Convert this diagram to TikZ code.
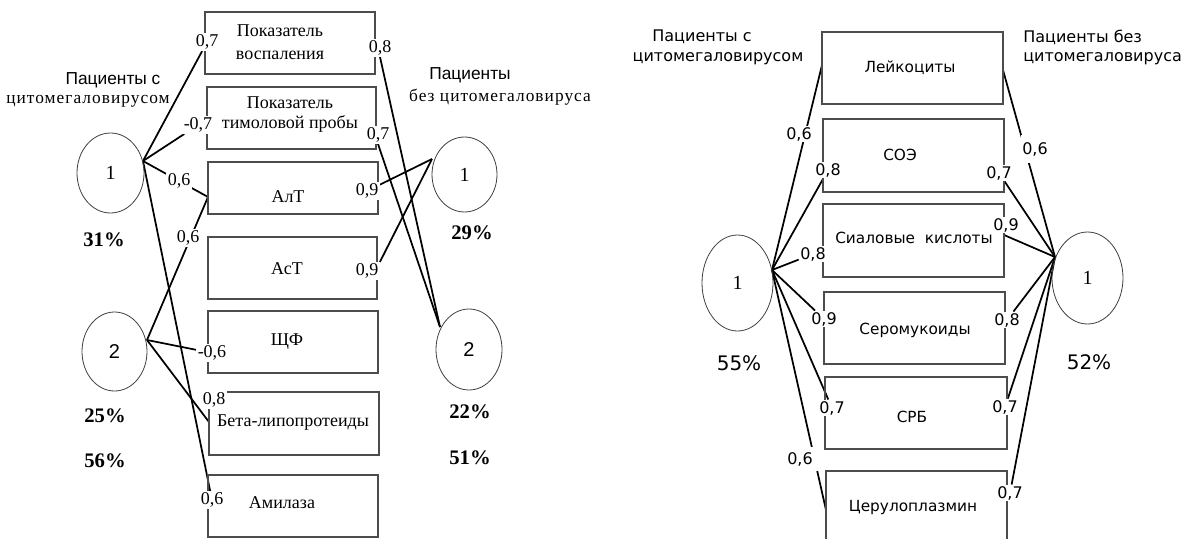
\documentclass[tikz,border=0pt]{standalone}
\usepackage{fontspec}
\usetikzlibrary{shapes.geometric,fit}
\newfontfamily\lsr{Liberation Serif}
\newfontfamily\lsrw{Liberation Serif}[LetterSpace=6]
\newfontfamily\lss{Liberation Sans}
\newfontfamily\djv{DejaVu Sans}
\pgfdeclarelayer{back}
\pgfdeclarelayer{wires}
\pgfsetlayers{back,wires,main}

\tikzset{
  lbox/.style={draw=black!70, line width=0.9pt, inner sep=0pt},
  conn/.style={line width=1.3pt, black},
  oval/.style={ellipse, draw=black!75, line width=0.6pt, inner sep=0pt},
  ltxt/.style={font=\lsr\fontsize{13.5}{15}\selectfont, align=center, inner sep=0pt},
  lnum/.style={fill=white, inner sep=1pt, font=\lsr\fontsize{13.5}{13}\selectfont},
  lpct/.style={font=\lsr\bfseries\fontsize{15.5}{16}\selectfont, inner sep=0pt},
  lhead/.style={font=\lss\fontsize{13}{13}\selectfont, inner sep=0pt},
  lheadw/.style={font=\lsrw\fontsize{13}{13}\selectfont, inner sep=0pt},
  rtxt/.style={font=\djv\fontsize{11.5}{13}\selectfont, inner sep=0pt},
  rnum/.style={fill=white, inner sep=1pt, font=\djv\fontsize{12}{12}\selectfont},
  rpct/.style={font=\djv\fontsize{15}{15}\selectfont, inner sep=0pt},
  rhead/.style={font=\djv\fontsize{12}{12}\selectfont, inner sep=0pt},
}

\begin{document}
\begin{tikzpicture}[x=0.75pt,y=-0.75pt]
\clip (0,0) rectangle (1193,539);
\begin{pgfonlayer}{back}
  \fill[white] (0,0) rectangle (1193,539);
\end{pgfonlayer}

%% ---------- left scheme: indicator boxes ----------
\node[lbox, fit={(205,12)(375,74)}]   (L1) {};
\node[lbox, fit={(207,87)(376,149)}]  (L2) {};
\node[lbox, fit={(208,162)(378,214)}] (L3) {};
\node[lbox, fit={(208,237)(377,299)}] (L4) {};
\node[lbox, fit={(208,311)(378,373)}] (L5) {};
\node[lbox, fit={(209,392)(379,455)}] (L6) {};
\node[lbox, fit={(208,475)(378,537)}] (L7) {};

\node[ltxt, font=\lsr\fontsize{13.5}{17}\selectfont] (L1t) at (280,42) {Показатель\\воспаления};
\node[ltxt] (L2t) at (290,115) {Показатель\\тимоловой пробы};
\node[ltxt] (L3t) at (288,197) {АлТ};
\node[ltxt] (L4t) at (287,269) {АсТ};
\node[ltxt] (L5t) at (287,342) {ЩФ};
\node[ltxt] (L6t) at (293,423) {Бета-липопротеиды};
\node[ltxt] (L7t) at (282,503) {Амилаза};

%% clusters
\node[oval, minimum width=50.25pt, minimum height=60pt, font=\lsr\fontsize{15}{15}\selectfont] (A1) at (110.5,173) {1};
\node[oval, minimum width=48.75pt, minimum height=59.25pt, font=\lss\fontsize{15}{15}\selectfont] (A2) at (114.5,351.5) {2};
\node[oval, minimum width=48.75pt, minimum height=56.25pt, font=\lsr\fontsize{15}{15}\selectfont] (B1) at (464.5,174.5) {1};
\node[oval, minimum width=49.5pt, minimum height=60.75pt, font=\lss\fontsize{15}{15}\selectfont] (B2) at (469,349.5) {2};

\coordinate (a1) at (143,161);
\coordinate (a2) at (147,340);
\coordinate (b1) at (432,159);
\coordinate (b2) at (440,327);
\coordinate (L3w) at (208,197);
\coordinate (L6w) at (209,422);

%% headings and shares
\node[lhead]  (hl1) at (113,80)  {Пациенты с};
\node[lheadw] (hl2) at (88,101)  {цитомегаловирусом};
\node[lhead]  (hr1) at (470,75)  {Пациенты};
\node[lheadw] (hr2) at (500,97)  {без цитомегаловируса};

\node[lpct] (pA1)  at (104,240) {31\%};
\node[lpct] (pA2)  at (105,416) {25\%};
\node[lpct] (pA3)  at (105,461) {56\%};
\node[lpct] (pB1)  at (472,233) {29\%};
\node[lpct] (pB2)  at (470,412) {22\%};
\node[lpct] (pB3)  at (470,458) {51\%};

%% loadings
\node[lnum] (n1)  at (207,42)  {0,7};
\node[lnum] (n2)  at (198,125) {-0,7};
\node[lnum] (n3)  at (179,181) {0,6};
\node[lnum] (n4)  at (188,238) {0,6};
\node[lnum] (n5)  at (212,353) {-0,6};
\node[lnum] (n6)  at (214,400) {0,8};
\node[lnum] (n7)  at (212,500) {0,6};
\node[lnum] (n8)  at (380,48)  {0,8};
\node[lnum] (n9)  at (378,135) {0,7};
\node[lnum] (n10) at (367,191) {0,9};
\node[lnum] (n11) at (367,271) {0,9};

\begin{pgfonlayer}{wires}
  \draw[conn] (a1) -- (n1);
  \draw[conn] (a1) -- (n2);
  \draw[conn] (a1) -- (L3w);
  \draw[conn] (a1) -- (n7);
  \draw[conn] (a2) -- (L3w);
  \draw[conn] (a2) -- (n5);
  \draw[conn] (a2) -- (L6w);
  \draw[conn] (n8.south) -- (b2);
  \draw[conn] (n9.south) -- (b2);
  \draw[conn] (n10) -- (b1);
  \draw[conn] (n11.north east) -- (b1);
\end{pgfonlayer}

%% ---------- right scheme ----------
\node[lbox, fit={(822,32)(1003,104)}]  (R1) {};
\node[lbox, fit={(823,119)(1004,192)}] (R2) {};
\node[lbox, fit={(823,204)(1004,277)}] (R3) {};
\node[lbox, fit={(824,292)(1005,364)}] (R4) {};
\node[lbox, fit={(825,377)(1007,449)}] (R5) {};
\node[lbox, fit={(826,471)(1007,570)}] (R6) {};

\node[rtxt] (R1t) at (910,68)  {Лейкоциты};
\node[rtxt] (R2t) at (900,155) {СОЭ};
\node[rtxt] (R3t) at (914,238) {Сиаловые\ \ кислоты};
\node[rtxt] (R4t) at (915,330) {Серомукоиды};
\node[rtxt] (R5t) at (912,417) {СРБ};
\node[rtxt] (R6t) at (913,508) {Церулоплазмин};

\node[oval, minimum width=53.25pt, minimum height=72pt, font=\lsr\fontsize{15}{15}\selectfont] (C1) at (737.5,283) {1};
\node[oval, minimum width=53.25pt, minimum height=69pt, font=\lsr\fontsize{15}{15}\selectfont] (D1) at (1087.5,278) {1};

\coordinate (c1) at (772,270);
\coordinate (d1) at (1055,257);
\coordinate (R1w) at (822,65);
\coordinate (R6w) at (826,510);
\coordinate (R1e) at (1003,70);
\coordinate (R3e) at (1004,235);

\node[rhead] (gl1) at (702,37) {Пациенты с};
\node[rhead] (gl2) at (718,59) {цитомегаловирусом};
\node[rhead, anchor=west] (gr1) at (1023,37) {Пациенты без};
\node[rhead, anchor=west] (gr2) at (1023,59) {цитомегаловируса};

\node[rpct] (pC1) at (739,363) {55\%};
\node[rpct] (pD1) at (1089,362) {52\%};

\node[rnum] (m1) at (799,134) {0,6};
\node[rnum] (m2) at (828,170) {0,8};
\node[rnum] (m3) at (813,254) {0,8};
\node[rnum] (m4) at (824,319) {0,9};
\node[rnum] (m5) at (832,408) {0,7};
\node[rnum, inner xsep=4pt, inner ysep=4pt] (m6) at (800,459) {0,6};
\node[rnum, inner ysep=5pt] (q1) at (1035,149) {0,6};
\node[rnum] (q2) at (999,173)  {0,7};
\node[rnum] (q3) at (1006,225) {0,9};
\node[rnum] (q4) at (1007,320) {0,8};
\node[rnum] (q5) at (1005,407) {0,7};
\node[rnum] (q6) at (1010,493) {0,7};

\begin{pgfonlayer}{wires}
  \draw[conn] (c1) -- (R1w);
  \draw[conn] (c1) -- (m2);
  \draw[conn] (c1) -- (m3);
  \draw[conn] (c1) -- (m4);
  \draw[conn] (c1) -- (m5);
  \draw[conn] (c1) -- (R6w);
  \draw[conn] (R1e) -- (d1);
  \draw[conn] (q2) -- (d1);
  \draw[conn] (R3e) -- (d1);
  \draw[conn] (q4) -- (d1);
  \draw[conn] (q5) -- (d1);
  \draw[conn] (q6) -- (d1);
\end{pgfonlayer}
\end{tikzpicture}
\end{document}
